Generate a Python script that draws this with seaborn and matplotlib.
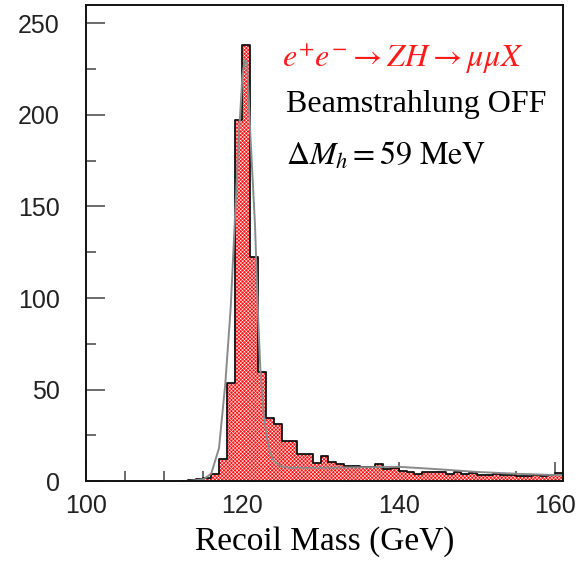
import numpy as np
import pandas as pd
import seaborn as sns
import matplotlib.pyplot as plt

# Recoil mass histogram, 1 GeV bins (lower edge -> entries)
bin_lo = [112, 113, 114, 115, 116, 117, 118, 119, 120, 121, 122, 123, 124,
          125, 126, 127, 128, 129, 130, 131, 132, 133, 134, 135, 136, 137,
          138, 139, 140, 141, 142, 143, 144, 145, 146, 147, 148, 149, 150,
          151, 152, 153, 154, 155, 156, 157, 158, 159, 160]
counts = [0, 0.5, 1, 1.8, 3.7, 12.2, 53.5, 197, 238, 122.6, 59.8, 34.5, 31,
          21.9, 21.9, 15, 15, 10, 13.7, 10.6, 9.5, 8.2, 8.2, 7.7, 7.7, 9.5,
          6.7, 7.3, 5.5, 5, 4, 5, 5, 5.2, 4, 5, 4, 4.6, 3.5,
          3.3, 4, 3.6, 3.6, 2.7, 2.7, 3.6, 3, 3.6, 4.6]

# fit curve
fit_x = [113, 115, 116, 117, 117.8, 118.5, 119, 119.5, 120, 120.3, 120.6,
         121, 121.3, 121.6, 122, 122.3, 122.7, 123.1, 123.5, 124, 125, 126,
         130, 135, 140, 145, 150, 155, 160, 161]
fit_y = [0, 1, 4, 18, 53, 95, 140, 185, 222, 230, 228, 190, 165, 140, 90,
         60, 38, 24, 16, 11, 8, 7.3, 7.3, 7.5, 7.8, 6.5, 5, 4, 3.3, 3.2]

df = pd.DataFrame({"mass": np.array(bin_lo) + 0.5, "n": counts})
edges = list(bin_lo) + [bin_lo[-1] + 1]

sns.set_theme(style="white")
plt.rcParams["mathtext.fontset"] = "stix"
plt.rcParams["hatch.linewidth"] = 0.35
plt.rcParams["hatch.color"] = "white"

fig = plt.figure(figsize=(5.78, 5.68), dpi=100)
ax = fig.add_axes([0.149, 0.153, 0.825, 0.838])

# red fill
sns.histplot(data=df, x="mass", weights="n", bins=edges, stat="count",
             element="bars", fill=True, color="#ff1010", alpha=1,
             linewidth=0, ax=ax)
# white checker on top
for p in ax.patches:
    p.set_hatch("x" * 9)
    p.set_edgecolor("white")
    p.set_linewidth(0)
# outline
sns.histplot(data=df, x="mass", weights="n", bins=edges, stat="count",
             element="step", fill=False, color="#111111", linewidth=1.3, ax=ax)
sns.lineplot(x=fit_x, y=fit_y, color="#8a8a8a", linewidth=1.4, ax=ax)

ax.set_xlim(100, 161)
ax.set_ylim(0, 260)
ax.set_xticks([100, 120, 140, 160])
ax.set_xticks(np.arange(100, 161, 5), minor=True)
ax.set_yticks([0, 50, 100, 150, 200, 250])
ax.set_yticks(np.arange(0, 251, 25), minor=True)
ax.tick_params(which="both", bottom=True, left=True, top=False, right=False)
ax.tick_params(which="major", direction="in", length=14, width=1.1,
               color="#444444", labelsize=18, labelcolor="#222222")
ax.tick_params(which="minor", direction="in", length=7, width=1.1,
               color="#444444")
ax.tick_params(axis="y", pad=19)
ax.tick_params(axis="x", pad=9)
for lab in ax.get_xticklabels() + ax.get_yticklabels():
    lab.set_fontfamily("Liberation Sans")
for s in ax.spines.values():
    s.set_color("#111111")
    s.set_linewidth(1.4)

ax.set_ylabel("")
ax.set_xlabel("Recoil Mass (GeV)", fontsize=24, family="Liberation Serif",
              color="black", labelpad=6)

ax.text(0.41, 0.87, r"$e^{+}e^{-} \rightarrow ZH \rightarrow \mu\mu X$",
        transform=ax.transAxes, color="#ff1a1a", fontsize=23)
ax.text(0.42, 0.775, "Beamstrahlung OFF", transform=ax.transAxes,
        fontsize=23, family="Liberation Serif", color="black")
ax.text(0.42, 0.665, r"$\Delta M_h = 59\ \mathrm{MeV}$",
        transform=ax.transAxes, fontsize=23, color="black")

fig.savefig("out.png", dpi=100)
